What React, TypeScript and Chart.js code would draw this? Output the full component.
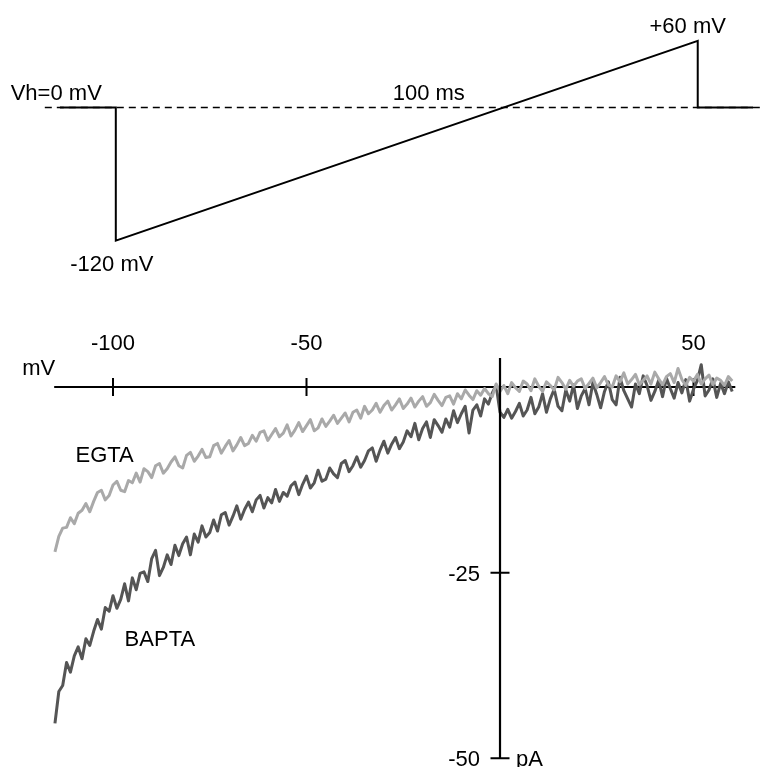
import React, { useEffect, useRef } from "react";
import { Chart, registerables } from "chart.js";

Chart.register(...registerables);

const FONT = '"Liberation Sans", Arial, Helvetica, sans-serif';
const FONT_SIZE = 22;

// ---------- Top panel: voltage protocol ----------
const protocolTimeMs = [-9.6, 0, 0, 100, 100, 109.5];
const protocolMv = [0, 0, -120, 60, 0, 0];
const holdingTimeMs = [-12.2, 110.7];
const holdingMv = [0, 0];

// ---------- Bottom panel: I–V ramp currents ----------
const V_START = -115; // mV, first sample of the ramp traces
const V_STEP = 1; // mV per sample

const egtaPa = [
  -22.2, -20.1, -19.0, -18.9, -17.6, -18.4, -17.0, -16.6, -15.7, -16.8,
  -15.4, -14.2, -13.9, -15.2, -14.6, -13.2, -12.7, -13.9, -14.1, -12.6,
  -12.9, -11.6, -12.8, -11.0, -11.4, -12.2, -10.6, -10.3, -11.6, -11.0,
  -10.1, -9.4, -10.6, -10.9, -9.2, -8.8, -10.0, -9.3, -8.4, -9.5,
  -9.4, -7.9, -7.6, -8.9, -8.0, -7.2, -8.6, -7.8, -6.8, -7.9,
  -7.6, -6.5, -7.3, -6.1, -5.9, -7.2, -6.4, -5.6, -6.7, -6.2,
  -5.1, -6.6, -5.8, -4.8, -6.0, -5.2, -4.4, -5.9, -5.5, -4.3,
  -5.3, -4.6, -3.8, -4.9, -4.2, -3.5, -4.7, -3.4, -3.1, -4.2,
  -2.6, -3.6, -3.1, -2.2, -3.4, -2.5, -1.9, -3.1, -2.4, -1.6,
  -2.9, -2.3, -1.5, -2.7, -1.9, -1.3, -2.6, -2.1, -1.0, -1.8,
  -2.5, -1.4, -1.2, -2.3, -0.9, -1.6, -0.4, -1.1, -1.7, -0.5,
  -1.1, -0.2, -0.9, -1.3, 0.4, -0.6, 0.2, -0.9, 0.6, -0.1,
  -0.6, 0.8, 0.4, -0.5, 1.1, 0.1, -0.6, 0.7, 0.2, -0.4,
  1.3, 0.6, -0.3, 0.9, 0.1, 0.8, 1.1, -0.2, 0.5, 1.2,
  -0.1, 0.6, 1.4, 0.3, 0.0, 1.5, 0.7, 1.9, 0.4, 1.0,
  1.7, 0.3, 0.9, 1.5, 0.4, 2.0, 1.1, 0.3, 1.4, 1.8,
  0.6, 2.5, 1.0, 0.2, 1.3, 0.8, 1.7, 0.4, 1.1, 1.6,
  0.3, 1.2, 0.9, 0.2, 1.4, 0.8,
];

const baptaPa = [
  -45.3, -41.0, -40.2, -37.1, -38.4, -36.2, -35.0, -36.6, -33.9, -34.8,
  -32.9, -31.3, -32.6, -29.7, -30.2, -28.1, -29.8, -28.6, -26.5, -28.8,
  -25.7, -27.3, -25.1, -24.9, -26.2, -23.1, -22.0, -25.4, -24.3, -22.6,
  -23.9, -21.3, -22.7, -21.1, -20.2, -22.6, -19.8, -20.9, -18.7, -20.2,
  -19.6, -17.9, -19.4, -17.2, -16.9, -18.6, -17.4, -16.0, -17.8, -16.5,
  -15.5, -16.8, -15.2, -14.6, -16.3, -14.9, -15.6, -13.8, -15.4, -14.2,
  -14.7, -13.3, -12.8, -14.5, -13.1, -12.0, -13.6, -12.9, -11.2, -12.7,
  -12.4, -10.9, -11.7, -12.2, -10.3, -9.9, -11.4, -10.6, -9.4, -10.8,
  -9.9, -8.6, -8.2, -10.0, -8.5, -7.3, -8.9, -7.7, -6.8, -8.3,
  -7.4, -5.9, -6.7, -4.9, -7.1, -5.6, -4.7, -6.8, -4.4, -5.2,
  -6.1, -4.3, -5.4, -3.2, -4.8, -3.6, -2.6, -6.2, -3.1, -2.4,
  -3.9, -1.6, -2.3, -0.8, 0.2, -3.4, -4.1, -3.0, -4.2, -3.3,
  -2.2, -3.9, -3.1, -1.4, -3.6, -2.7, -0.9, -3.4, -1.6, -0.3,
  -2.6, -3.2, -0.4, -1.9, 0.3, -2.9, -1.2, -0.2, -2.4, 0.6,
  -1.0, -2.8, -0.6, 0.7, -1.7, -2.4, 1.3, -0.5, -1.6, -2.7,
  0.4, -0.9, 1.5, 0.2, -1.8, -0.6, 0.9, -1.3, 1.2, -0.2,
  -1.5, 0.6, -0.8, 1.0, -1.9, -0.3, 0.9, 3.0, -1.2, -0.4,
  1.1, -1.4, 0.5, -0.9, 0.7, -0.6,
];

const xTickValues = [-100, -50, 50];
const xTickLabels = ["-100", "-50", "50"];
const yTickValues = [-25, -50];
const yTickLabels = ["-25", "-50"];
const xAxisExtent = [-115.2, 60.8];
const yAxisExtent = [3.9, -50];

const EGTA_COLOR = "#a9a9a9";
const BAPTA_COLOR = "#555555";

const toPoints = (xs: number[], ys: number[]) => xs.map((x, i) => ({ x, y: ys[i] }));
const rampPoints = (ys: number[]) => ys.map((y, i) => ({ x: V_START + i * V_STEP, y }));

const topLabelsPlugin = {
  id: "topLabels",
  afterDatasetsDraw(chart: any) {
    const { ctx, scales } = chart;
    const x = scales.x;
    const y = scales.y;
    const defs = [
      { text: "Vh=0 mV", t: 0, v: 0, dx: -14, dy: -7.5, align: "right" },
      { text: "100 ms", t: 50, v: 0, dx: 22, dy: -7.5, align: "center" },
      { text: "+60 mV", t: 100, v: 60, dx: -10, dy: -8, align: "center" },
      { text: "-120 mV", t: 0, v: -120, dx: -4, dy: 30, align: "center" },
    ];
    ctx.save();
    ctx.font = `${FONT_SIZE}px ${FONT}`;
    ctx.fillStyle = "#000";
    ctx.textBaseline = "alphabetic";
    for (const d of defs) {
      ctx.textAlign = d.align;
      ctx.fillText(d.text, x.getPixelForValue(d.t) + d.dx, y.getPixelForValue(d.v) + d.dy);
    }
    ctx.restore();
  },
};

const ivAxesPlugin = {
  id: "ivAxes",
  beforeDatasetsDraw(chart: any) {
    const { ctx, scales } = chart;
    const x = scales.x;
    const y = scales.y;
    const y0 = y.getPixelForValue(0);
    ctx.save();
    ctx.strokeStyle = "#000";
    ctx.lineWidth = 2;
    ctx.lineCap = "butt";
    ctx.beginPath();
    ctx.moveTo(x.getPixelForValue(xAxisExtent[0]), y0);
    ctx.lineTo(x.getPixelForValue(xAxisExtent[1]), y0);
    for (const v of xTickValues) {
      const px = x.getPixelForValue(v);
      ctx.moveTo(px, y0 - 9);
      ctx.lineTo(px, y0 + 9);
    }
    ctx.stroke();

    ctx.font = `${FONT_SIZE}px ${FONT}`;
    ctx.fillStyle = "#000";
    ctx.textBaseline = "alphabetic";
    ctx.textAlign = "center";
    xTickValues.forEach((v, i) => {
      ctx.fillText(xTickLabels[i], x.getPixelForValue(v), y0 - 37);
    });
    ctx.textAlign = "right";
    ctx.fillText("mV", x.getPixelForValue(xAxisExtent[0]) + 1, y0 - 12);

    ctx.textAlign = "left";
    ctx.fillText("EGTA", x.getPixelForValue(-109.7), y.getPixelForValue(-10.1));
    ctx.fillText("BAPTA", x.getPixelForValue(-97.0), y.getPixelForValue(-34.9));
    ctx.restore();
  },
  afterDatasetsDraw(chart: any) {
    const { ctx, scales } = chart;
    const x = scales.x;
    const y = scales.y;
    const x0 = x.getPixelForValue(0);
    ctx.save();
    ctx.strokeStyle = "#000";
    ctx.lineWidth = 2.2;
    ctx.beginPath();
    ctx.moveTo(x0, y.getPixelForValue(yAxisExtent[0]));
    ctx.lineTo(x0, y.getPixelForValue(yAxisExtent[1]));
    ctx.stroke();
    ctx.lineWidth = 2;
    ctx.beginPath();
    for (const v of yTickValues) {
      const py = y.getPixelForValue(v);
      ctx.moveTo(x0 - 9.5, py);
      ctx.lineTo(x0 + 9.5, py);
    }
    ctx.stroke();

    ctx.font = `${FONT_SIZE}px ${FONT}`;
    ctx.fillStyle = "#000";
    ctx.textBaseline = "alphabetic";
    ctx.textAlign = "right";
    yTickValues.forEach((v, i) => {
      ctx.fillText(yTickLabels[i], x0 - 20, y.getPixelForValue(v) + 8);
    });
    ctx.textAlign = "left";
    ctx.fillText("pA", x0 + 16, y.getPixelForValue(-50) + 8);
    ctx.restore();
  },
};

const hiddenScales = (xmin: number, xmax: number, ymin: number, ymax: number) => ({
  x: { type: "linear" as const, min: xmin, max: xmax, display: false },
  y: { type: "linear" as const, min: ymin, max: ymax, display: false },
});

export default function App() {
  const topRef = useRef<HTMLCanvasElement | null>(null);
  const bottomRef = useRef<HTMLCanvasElement | null>(null);

  useEffect(() => {
    const common = {
      animation: false as const,
      responsive: false,
      maintainAspectRatio: false,
      layout: { padding: 0 },
      plugins: { legend: { display: false }, tooltip: { enabled: false } },
      elements: { point: { radius: 0 }, line: { tension: 0 } },
      events: [] as any[],
    };

    const top = new Chart(topRef.current!, {
      type: "line",
      data: {
        datasets: [
          {
            data: toPoints(holdingTimeMs, holdingMv),
            borderColor: "#000",
            borderWidth: 1.5,
            borderDash: [7, 5],
          },
          {
            data: toPoints(protocolTimeMs, protocolMv),
            borderColor: "#000",
            borderWidth: 2,
            borderJoinStyle: "miter",
          },
        ],
      },
      options: {
        ...common,
        scales: hiddenScales(-19.9, 110.7, -173.4, 96.85),
      },
      plugins: [topLabelsPlugin],
    } as any);

    const bottom = new Chart(bottomRef.current!, {
      type: "line",
      data: {
        datasets: [
          {
            label: "EGTA",
            data: rampPoints(egtaPa),
            borderColor: EGTA_COLOR,
            borderWidth: 3,
            borderJoinStyle: "round",
          },
          {
            label: "BAPTA",
            data: rampPoints(baptaPa),
            borderColor: BAPTA_COLOR,
            borderWidth: 3,
            borderJoinStyle: "round",
          },
        ],
      },
      options: {
        ...common,
        scales: hiddenScales(-129.2, 67.18, -51.17, 11.716),
      },
      plugins: [ivAxesPlugin],
    } as any);

    return () => {
      top.destroy();
      bottom.destroy();
    };
  }, []);

  return (
    <div style={{ position: "absolute", left: 0, top: 0, width: 760, height: 767, background: "#fff" }}>
      <canvas ref={topRef} width={760} height={300} style={{ position: "absolute", left: 0, top: 0, width: 760, height: 300 }} />
      <canvas ref={bottomRef} width={760} height={467} style={{ position: "absolute", left: 0, top: 300, width: 760, height: 467 }} />
    </div>
  );
}
